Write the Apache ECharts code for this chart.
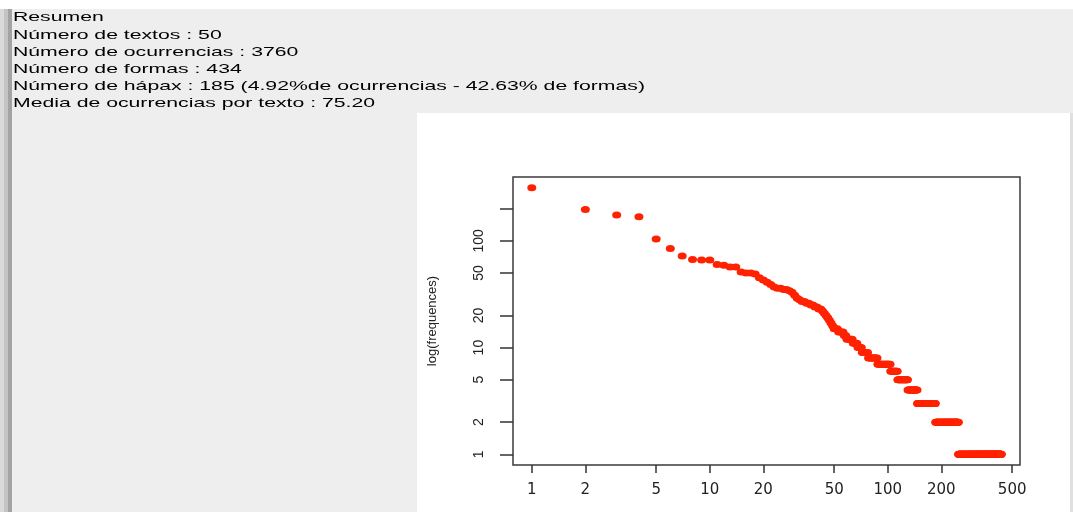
<!DOCTYPE html>
<html><head><meta charset="utf-8">
<script src="https://cdn.jsdelivr.net/npm/echarts@6/dist/echarts.min.js"></script>
<style>html,body{margin:0;padding:0;width:1073px;height:512px;overflow:hidden;background:#eeeeee}#c{width:1073px;height:512px}</style>
</head><body><div id="c"></div>
<script>
// ---- text ----
const summaryLines = [
  'Resumen',
  'Número de textos : 50',
  'Número de ocurrencias : 3760',
  'Número de formas : 434',
  'Número de hápax : 185 (4.92%de ocurrencias - 42.63% de formas)',
  'Media de ocurrencias por texto : 75.20'
];
const yAxisTitle = 'log(frequences)';
// ---- data: frequency by rank (ranks 1..77 individually, then runs of equal frequency) ----
const headFreq = [315,197,175,168,104,85,72,67,66,66,
  60,59,57,57,51,50,50,49,45,
  43,41,39,37,36,36,35,35,34,33,31,
  29,28,27,27,26,26,25,25,24,24,
  23,23,22,21,20,19,18,17,16,
  15,15,15,14,14,14,14,13,13,
  12,12,12,12,12,
  11,11,11,11,
  10,10,10,10,
  9,9,9,9,9,9];
const tailFreq  = [8, 7, 6, 5, 4, 3, 2, 1];
const tailCount = [10,16,10,16,17,39,64,185];
const xTicks = [1,2,5,10,20,50,100,200,500];
const yTicks = [1,2,5,10,20,50,100,200];
const yLabels = [1,2,5,10,20,50,100];

const freqs = headFreq.slice();
tailFreq.forEach((f, k) => { for (let j = 0; j < tailCount[k]; j++) freqs.push(f); });
const points = freqs.map((f, i) => [i + 1, f]);

// R-style 4% range extension in log space
const lx = Math.log10(freqs.length), ly = Math.log10(Math.max(...freqs));
const xMin = Math.pow(10, -0.04 * lx), xMax = Math.pow(10, lx * 1.04);
const yMin = Math.pow(10, -0.04 * ly), yMax = Math.pow(10, ly * 1.04);

// header text horizontal stretch
const hdrFont = '13px "Liberation Sans"';
const ctx = document.createElement('canvas').getContext('2d');
ctx.font = hdrFont;
const sx = 632 / ctx.measureText(summaryLines[4]).width;

const graphics = [
  {type:'rect', shape:{x:0,y:0,width:1073,height:9}, style:{fill:'#ffffff'}, z:-10, silent:true},
  {type:'rect', shape:{x:0,y:9,width:4,height:503}, style:{fill:'#dadada'}, z:-10, silent:true},
  {type:'rect', shape:{x:4,y:9,width:4,height:503}, style:{fill:'#c4c4c4'}, z:-10, silent:true},
  {type:'rect', shape:{x:8,y:9,width:4,height:503}, style:{fill:'#a3a3a3'}, z:-10, silent:true},
  {type:'rect', shape:{x:417,y:113,width:653,height:399}, style:{fill:'#ffffff'}, z:-10, silent:true},
  {type:'rect', shape:{x:1070,y:113,width:3,height:399}, style:{fill:'#e0e0e0'}, z:-10, silent:true}
];
summaryLines.forEach((t, i) => {
  graphics.push({type:'text', x:13, y:17.8 + i * 17.2, scaleX: sx, silent:true, z:5,
    style:{text:t, font:hdrFont, fill:'#000000', textAlign:'left', textVerticalAlign:'middle'}});
});

const chart = echarts.init(document.getElementById('c'), null, {renderer:'canvas'});
chart.setOption({
  backgroundColor: '#eeeeee',
  animation: false,
  graphic: graphics,
  grid: {left:513, top:177, width:507, height:288, show:true, backgroundColor:'#ffffff',
         borderColor:'#3a3a3a', borderWidth:1.5, containLabel:false},
  xAxis: {
    type:'log', logBase:10, min:xMin, max:xMax,
    axisLine:{show:false},
    splitLine:{show:false},
    axisTick:{show:true, customValues:xTicks, length:8, lineStyle:{color:'#333', width:1.5}},
    axisLabel:{customValues:xTicks, margin:18, color:'#222', fontFamily:'DejaVu Sans', fontSize:15,
               formatter: v => String(v)}
  },
  yAxis: {
    type:'log', logBase:10, min:yMin, max:yMax,
    name: yAxisTitle, nameLocation:'middle', nameRotate:90, nameGap:74,
    nameTextStyle:{color:'#222', fontFamily:'Liberation Sans', fontSize:13},
    axisLine:{show:false},
    splitLine:{show:false},
    axisTick:{show:true, customValues:yTicks, length:13, lineStyle:{color:'#333', width:1.5}},
    axisLabel:{customValues:yLabels, rotate:90, margin:27, color:'#222', fontFamily:'Liberation Sans', fontSize:14,
               formatter: v => String(v)}
  },
  series: [{
    type:'scatter', data: points, symbol:'circle', symbolSize:[9,7],
    itemStyle:{color:'#ff2200', opacity:1}, silent:true
  }]
});
</script></body></html>
